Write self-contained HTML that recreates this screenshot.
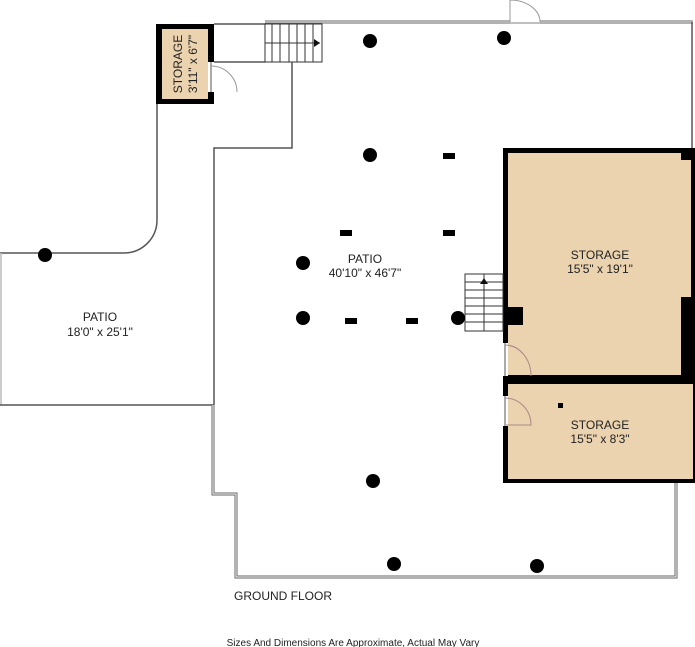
<!DOCTYPE html>
<html><head><style>body{margin:0;background:#fff}svg{display:block}text{font-family:"Liberation Sans",sans-serif;fill:#222}</style></head>
<body>
<svg width="695" height="647" viewBox="0 0 695 647" xmlns="http://www.w3.org/2000/svg">
<g fill="none" stroke="#555" stroke-width="1.5">
<line x1="265" y1="22" x2="510" y2="22" stroke-width="3" stroke="#666"/>
<line x1="265" y1="22" x2="510" y2="22" stroke-width="1" stroke="#fff"/>
<line x1="540" y1="22" x2="693" y2="22" stroke-width="3" stroke="#666"/>
<line x1="540" y1="22" x2="693" y2="22" stroke-width="1" stroke="#fff"/>
<line x1="510" y1="23" x2="540" y2="23" stroke="#aaa"/>
<path d="M510 22 V0 M510 0 A30 22 0 0 1 540 22" stroke="#999" stroke-width="1"/>
<line x1="692" y1="22" x2="692" y2="148"/>
<line x1="214" y1="24" x2="265" y2="24"/>
<line x1="214" y1="62" x2="265" y2="62"/>
<polyline points="292,62 292,148 214,148 214,405"/>
<path d="M157 104 V220 A33 33 0 0 1 124 253 H0"/>
<line x1="1" y1="253" x2="1" y2="405" stroke="#bbb"/>
<line x1="0" y1="405" x2="214" y2="405"/>
<path d="M213 405 V494 H236 V577 H676 V483" stroke-width="3" stroke="#666"/>
<path d="M213 405 V494 H236 V577 H676 V483" stroke-width="1" stroke="#fff"/>
</g>
<g stroke="#333" stroke-width="1" fill="#fff">
<rect x="265" y="24" width="57" height="38"/>
<line x1="272" y1="24" x2="272" y2="62"/><line x1="280" y1="24" x2="280" y2="62"/><line x1="289" y1="24" x2="289" y2="62"/><line x1="297" y1="24" x2="297" y2="62"/><line x1="305" y1="24" x2="305" y2="62"/><line x1="313" y1="24" x2="313" y2="62"/>
<line x1="265" y1="43" x2="320" y2="43"/>
</g>
<polygon points="314,39 320,43 314,47" fill="#111"/>
<rect x="156" y="24" width="58" height="80" fill="#000"/>
<rect x="162" y="29" width="46" height="70" fill="#ecd3b0"/>
<rect x="208" y="62" width="6" height="30" fill="#fff"/>
<line x1="211" y1="62" x2="211" y2="92" stroke="#aaa" stroke-width="2"/>
<path d="M211 66 A26 26 0 0 1 237 92" fill="none" stroke="#999" stroke-width="1"/>
<text transform="translate(182,64) rotate(-90)" font-size="12" text-anchor="middle">STORAGE</text>
<text transform="translate(197,64) rotate(-90)" font-size="12" text-anchor="middle">3'11" x 6'7"</text>
<rect x="503" y="148" width="192" height="335" fill="#000"/>
<rect x="508" y="153" width="173" height="222" fill="#ecd3b0"/>
<rect x="681" y="160" width="10" height="137" fill="#ecd3b0"/>
<rect x="508" y="384" width="185" height="95" fill="#ecd3b0"/>
<rect x="508" y="307" width="15" height="18" fill="#000"/>
<rect x="500" y="343" width="8" height="33" fill="#fff"/><line x1="505" y1="343" x2="505" y2="376" stroke="#aaa" stroke-width="2"/>
<path d="M505 345 A26 31 0 0 1 531 376" fill="none" stroke="#a88" stroke-width="1"/>
<rect x="500" y="396" width="8" height="30" fill="#fff"/><line x1="505" y1="396" x2="505" y2="426" stroke="#aaa" stroke-width="2"/>
<path d="M505 398 A26 27 0 0 1 531 425 H506" fill="none" stroke="#a88" stroke-width="1"/>
<rect x="558" y="403" width="5" height="5" fill="#000"/>
<g stroke="#333" stroke-width="1" fill="#fff">
<rect x="465" y="274" width="38" height="57"/>
<line x1="465" y1="282" x2="503" y2="282"/><line x1="465" y1="290" x2="503" y2="290"/><line x1="465" y1="298" x2="503" y2="298"/><line x1="465" y1="306" x2="503" y2="306"/><line x1="465" y1="314" x2="503" y2="314"/><line x1="465" y1="322" x2="503" y2="322"/>
<line x1="484" y1="274" x2="484" y2="331"/>
</g>
<polygon points="480,284 484,278 488,284" fill="#111"/>
<g fill="#000">
<circle cx="370" cy="41" r="7"/><circle cx="504" cy="38" r="7"/><circle cx="370" cy="155" r="7"/><circle cx="45" cy="255" r="7"/><circle cx="303" cy="263" r="7"/><circle cx="303" cy="318" r="7"/><circle cx="458" cy="318" r="7"/><circle cx="373" cy="481" r="7"/><circle cx="394" cy="564" r="7"/><circle cx="537" cy="566" r="7"/>
<rect x="443" y="153" width="12" height="6"/><rect x="340" y="230" width="12" height="6"/><rect x="443" y="230" width="12" height="6"/><rect x="345" y="318" width="12" height="6"/><rect x="406" y="318" width="12" height="6"/>
</g>
<g font-size="12" text-anchor="middle">
<text x="365" y="263">PATIO</text><text x="365" y="277">40'10" x 46'7"</text>
<text x="100" y="321">PATIO</text><text x="100" y="336">18'0" x 25'1"</text>
<text x="600" y="259">STORAGE</text><text x="600" y="273">15'5" x 19'1"</text>
<text x="600" y="429">STORAGE</text><text x="600" y="443">15'5" x 8'3"</text>
<text x="283" y="600">GROUND FLOOR</text>
<text x="353" y="646" font-size="10">Sizes And Dimensions Are Approximate, Actual May Vary</text>
</g>
</svg>
</body></html>
